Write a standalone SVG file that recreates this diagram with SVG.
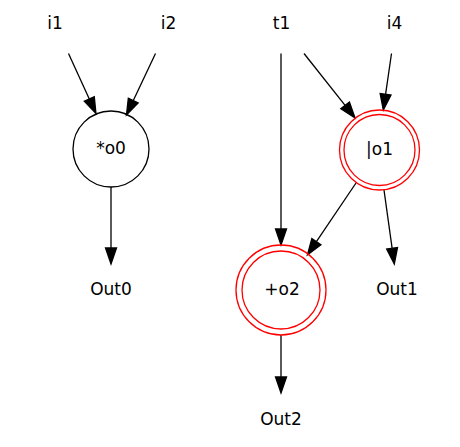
<svg xmlns="http://www.w3.org/2000/svg" width="460" height="447" viewBox="0 0 460 447">
<style>
text{font-family:"DejaVu Sans","Liberation Sans",sans-serif;font-size:17px;fill:#000;text-anchor:middle}
.e{stroke:#000;stroke-width:1.3;fill:none;marker-end:url(#ah)}
.n{stroke:#000;stroke-width:1.3;fill:none}
.r{stroke:#ff0000;stroke-width:1.3;fill:none}
</style>
<defs>
<marker id="ah" markerUnits="userSpaceOnUse" markerWidth="20" markerHeight="14" refX="0" refY="0" viewBox="0 -7 20 14" orient="auto" overflow="visible">
<path d="M0,-5.5 L16,0 L0,5.5 z" fill="#000" stroke="#000" stroke-width="1.3"/>
</marker>
</defs>
<rect width="460" height="447" fill="#fff"/>
<g id="connectors">
<path class="e" d="M68.5,53.5 L89.3,99"/>
<path class="e" d="M155.5,53.5 L133.3,100.5"/>
<path class="e" d="M111,187 L111,248"/>
<path class="e" d="M281,53.5 L281,229"/>
<path class="e" d="M304,53.5 L345.1,105.4"/>
<path class="e" d="M391.5,53.5 L385.6,94.2"/>
<path class="e" d="M356,183 L316.4,241.7"/>
<path class="e" d="M384,190 L392.1,248.2"/>
<path class="e" d="M281,335 L281,377"/>
</g>
<g id="i1"><text x="55" y="29">i1</text></g>
<g id="i2"><text x="168.5" y="29">i2</text></g>
<g id="t1"><text x="281.5" y="29">t1</text></g>
<g id="i4"><text x="394.5" y="29">i4</text></g>
<g id="o0"><circle class="n" cx="111" cy="149" r="38"/><text x="111" y="154">*o0</text></g>
<g id="o1"><circle class="r" cx="379.5" cy="150" r="40"/><circle class="r" cx="379.5" cy="150" r="35.5"/><text x="379.5" y="155">|o1</text></g>
<g id="o2"><circle class="r" cx="281" cy="290" r="45"/><circle class="r" cx="281" cy="290" r="39"/><text x="282" y="295">+o2</text></g>
<g id="Out0"><text x="111" y="295">Out0</text></g>
<g id="Out1"><text x="397" y="295">Out1</text></g>
<g id="Out2"><text x="281" y="425">Out2</text></g>
</svg>
